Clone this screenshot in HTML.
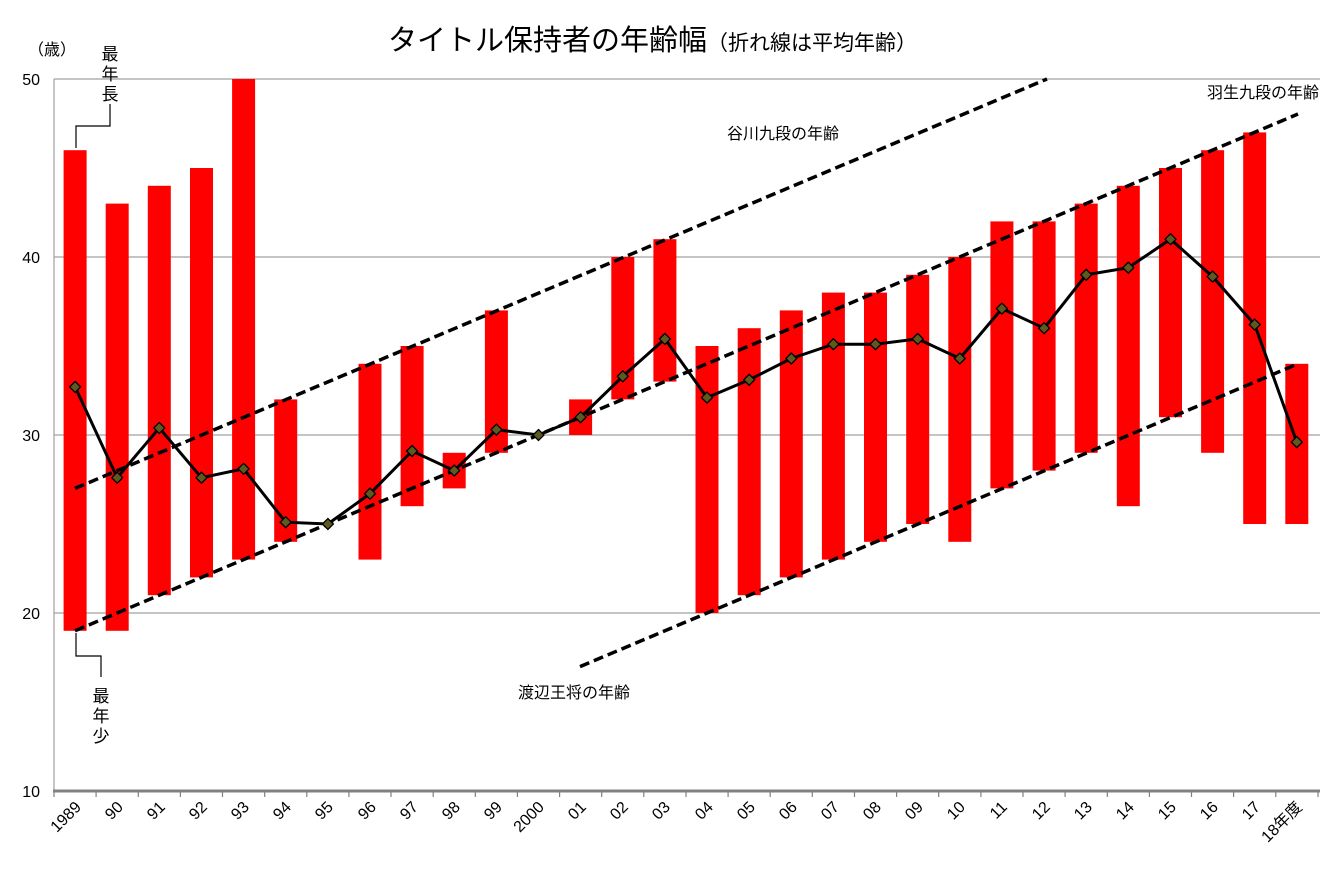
<!DOCTYPE html>
<html><head><meta charset="utf-8"><style>
html,body{margin:0;padding:0;background:#fff;}
svg text{font-family:"Liberation Sans","Noto Sans CJK JP",sans-serif;fill:#000;}
</style></head><body>
<svg width="1344" height="882" viewBox="0 0 1344 882" xmlns="http://www.w3.org/2000/svg">
<defs><path id="d" d="M0,-5.5 L5.5,0 L0,5.5 L-5.5,0 Z" fill="#5c5a1e" stroke="#000" stroke-width="1.3"/></defs>
<text x="388" y="50" font-size="29">タイトル保持者の年齢幅<tspan font-size="21">（折れ線は平均年齢）</tspan></text>
<g stroke="#a0a0a0" stroke-width="1.2">
<line x1="54" y1="79" x2="1320" y2="79"/><line x1="54" y1="257" x2="1320" y2="257"/>
<line x1="54" y1="435" x2="1320" y2="435"/><line x1="54" y1="613" x2="1320" y2="613"/>
<line x1="54" y1="79" x2="54" y2="791"/>
</g>
<g font-size="16" text-anchor="end"><text x="40" y="85">50</text><text x="40" y="263">40</text><text x="40" y="441">30</text><text x="40" y="619">20</text><text x="40" y="797">10</text></g>
<text x="28" y="55" font-size="16">（歳）</text>
<g fill="#ff0000">
<rect x="63.6" y="150.2" width="23" height="480.6"/>
<rect x="105.7" y="203.6" width="23" height="427.2"/>
<rect x="147.8" y="185.8" width="23" height="409.4"/>
<rect x="190" y="168" width="23" height="409.4"/>
<rect x="232.1" y="79" width="23" height="480.6"/>
<rect x="274.2" y="399.4" width="23" height="142.4"/>
<rect x="358.5" y="363.8" width="23" height="195.8"/>
<rect x="400.6" y="346" width="23" height="160.2"/>
<rect x="442.7" y="452.8" width="23" height="35.6"/>
<rect x="484.9" y="310.4" width="23" height="142.4"/>
<rect x="569.1" y="399.4" width="23" height="35.6"/>
<rect x="611.3" y="257" width="23" height="142.4"/>
<rect x="653.4" y="239.2" width="23" height="142.4"/>
<rect x="695.5" y="346" width="23" height="267"/>
<rect x="737.7" y="328.2" width="23" height="267"/>
<rect x="779.8" y="310.4" width="23" height="267"/>
<rect x="821.9" y="292.6" width="23" height="267"/>
<rect x="864" y="292.6" width="23" height="249.2"/>
<rect x="906.2" y="274.8" width="23" height="249.2"/>
<rect x="948.3" y="257" width="23" height="284.8"/>
<rect x="990.4" y="221.4" width="23" height="267"/>
<rect x="1032.6" y="221.4" width="23" height="249.2"/>
<rect x="1074.7" y="203.6" width="23" height="249.2"/>
<rect x="1116.8" y="185.8" width="23" height="320.4"/>
<rect x="1159" y="168" width="23" height="249.2"/>
<rect x="1201.1" y="150.2" width="23" height="302.6"/>
<rect x="1243.2" y="132.4" width="23" height="391.6"/>
<rect x="1285.3" y="363.8" width="23" height="160.2"/>
</g>
<g stroke="#808080" stroke-width="3"><line x1="53" y1="791" x2="1320" y2="791"/></g>
<g stroke="#808080" stroke-width="1.2">
<line x1="54" y1="791" x2="54" y2="797"/><line x1="96.1" y1="791" x2="96.1" y2="797"/><line x1="138.3" y1="791" x2="138.3" y2="797"/><line x1="180.4" y1="791" x2="180.4" y2="797"/><line x1="222.5" y1="791" x2="222.5" y2="797"/><line x1="264.7" y1="791" x2="264.7" y2="797"/><line x1="306.8" y1="791" x2="306.8" y2="797"/><line x1="348.9" y1="791" x2="348.9" y2="797"/><line x1="391" y1="791" x2="391" y2="797"/><line x1="433.2" y1="791" x2="433.2" y2="797"/><line x1="475.3" y1="791" x2="475.3" y2="797"/><line x1="517.4" y1="791" x2="517.4" y2="797"/><line x1="559.6" y1="791" x2="559.6" y2="797"/><line x1="601.7" y1="791" x2="601.7" y2="797"/><line x1="643.8" y1="791" x2="643.8" y2="797"/><line x1="686" y1="791" x2="686" y2="797"/><line x1="728.1" y1="791" x2="728.1" y2="797"/><line x1="770.2" y1="791" x2="770.2" y2="797"/><line x1="812.3" y1="791" x2="812.3" y2="797"/><line x1="854.5" y1="791" x2="854.5" y2="797"/><line x1="896.6" y1="791" x2="896.6" y2="797"/><line x1="938.7" y1="791" x2="938.7" y2="797"/><line x1="980.9" y1="791" x2="980.9" y2="797"/><line x1="1023" y1="791" x2="1023" y2="797"/><line x1="1065.1" y1="791" x2="1065.1" y2="797"/><line x1="1107.3" y1="791" x2="1107.3" y2="797"/><line x1="1149.4" y1="791" x2="1149.4" y2="797"/><line x1="1191.5" y1="791" x2="1191.5" y2="797"/><line x1="1233.6" y1="791" x2="1233.6" y2="797"/><line x1="1275.8" y1="791" x2="1275.8" y2="797"/><line x1="1318" y1="791" x2="1318" y2="797"/>
</g>
<g stroke="#000" stroke-width="3.5" stroke-dasharray="10,5" fill="none">
<line x1="75" y1="488.4" x2="1047" y2="79"/>
<line x1="75" y1="630.8" x2="1298" y2="114"/>
<line x1="580" y1="666.6" x2="1298" y2="363.8"/>
</g>
<polyline fill="none" stroke="#000" stroke-width="3" points="75.1,386.9 117.2,477.7 159.3,427.9 201.5,477.7 243.6,468.8 285.7,522.2 327.9,524 370,493.7 412.1,451 454.2,470.6 496.4,429.7 538.5,435 580.6,417.2 622.8,376.3 664.9,338.9 707,397.6 749.2,379.8 791.3,358.5 833.4,344.2 875.5,344.2 917.7,338.9 959.8,358.5 1001.9,308.6 1044.1,328.2 1086.2,274.8 1128.3,267.7 1170.5,239.2 1212.6,276.6 1254.7,324.6 1296.8,442.1"/>
<g>
<use href="#d" x="75.1" y="386.9"/><use href="#d" x="117.2" y="477.7"/><use href="#d" x="159.3" y="427.9"/><use href="#d" x="201.5" y="477.7"/><use href="#d" x="243.6" y="468.8"/><use href="#d" x="285.7" y="522.2"/><use href="#d" x="327.9" y="524"/><use href="#d" x="370" y="493.7"/><use href="#d" x="412.1" y="451"/><use href="#d" x="454.2" y="470.6"/><use href="#d" x="496.4" y="429.7"/><use href="#d" x="538.5" y="435"/><use href="#d" x="580.6" y="417.2"/><use href="#d" x="622.8" y="376.3"/><use href="#d" x="664.9" y="338.9"/><use href="#d" x="707" y="397.6"/><use href="#d" x="749.2" y="379.8"/><use href="#d" x="791.3" y="358.5"/><use href="#d" x="833.4" y="344.2"/><use href="#d" x="875.5" y="344.2"/><use href="#d" x="917.7" y="338.9"/><use href="#d" x="959.8" y="358.5"/><use href="#d" x="1001.9" y="308.6"/><use href="#d" x="1044.1" y="328.2"/><use href="#d" x="1086.2" y="274.8"/><use href="#d" x="1128.3" y="267.7"/><use href="#d" x="1170.5" y="239.2"/><use href="#d" x="1212.6" y="276.6"/><use href="#d" x="1254.7" y="324.6"/><use href="#d" x="1296.8" y="442.1"/>
</g>
<g stroke="#000" stroke-width="1.2" fill="none">
<polyline points="76,148 76,126 110,126 110,104"/>
<polyline points="76,633 76,656 101,656 101,677"/>
</g>
<g font-size="17" text-anchor="middle">
<text x="110" y="60">最</text><text x="110" y="80">年</text><text x="110" y="100">長</text>
<text x="101" y="702">最</text><text x="101" y="722">年</text><text x="101" y="742">少</text>
</g>
<g font-size="16">
<text x="727" y="139">谷川九段の年齢</text>
<text x="1207" y="98">羽生九段の年齢</text>
<text x="518" y="698">渡辺王将の年齢</text>
</g>
<g font-size="16" text-anchor="end">
<text transform="translate(82,808) rotate(-45)">1989</text>
<text transform="translate(124,808) rotate(-45)">90</text>
<text transform="translate(166,808) rotate(-45)">91</text>
<text transform="translate(208,808) rotate(-45)">92</text>
<text transform="translate(250,808) rotate(-45)">93</text>
<text transform="translate(292,808) rotate(-45)">94</text>
<text transform="translate(334,808) rotate(-45)">95</text>
<text transform="translate(377,808) rotate(-45)">96</text>
<text transform="translate(419,808) rotate(-45)">97</text>
<text transform="translate(461,808) rotate(-45)">98</text>
<text transform="translate(503,808) rotate(-45)">99</text>
<text transform="translate(545,808) rotate(-45)">2000</text>
<text transform="translate(587,808) rotate(-45)">01</text>
<text transform="translate(629,808) rotate(-45)">02</text>
<text transform="translate(671,808) rotate(-45)">03</text>
<text transform="translate(714,808) rotate(-45)">04</text>
<text transform="translate(756,808) rotate(-45)">05</text>
<text transform="translate(798,808) rotate(-45)">06</text>
<text transform="translate(840,808) rotate(-45)">07</text>
<text transform="translate(882,808) rotate(-45)">08</text>
<text transform="translate(924,808) rotate(-45)">09</text>
<text transform="translate(966,808) rotate(-45)">10</text>
<text transform="translate(1008,808) rotate(-45)">11</text>
<text transform="translate(1051,808) rotate(-45)">12</text>
<text transform="translate(1093,808) rotate(-45)">13</text>
<text transform="translate(1135,808) rotate(-45)">14</text>
<text transform="translate(1177,808) rotate(-45)">15</text>
<text transform="translate(1219,808) rotate(-45)">16</text>
<text transform="translate(1261,808) rotate(-45)">17</text>
<text transform="translate(1303,808) rotate(-45)">18年度</text>
</g>
</svg>
</body></html>
